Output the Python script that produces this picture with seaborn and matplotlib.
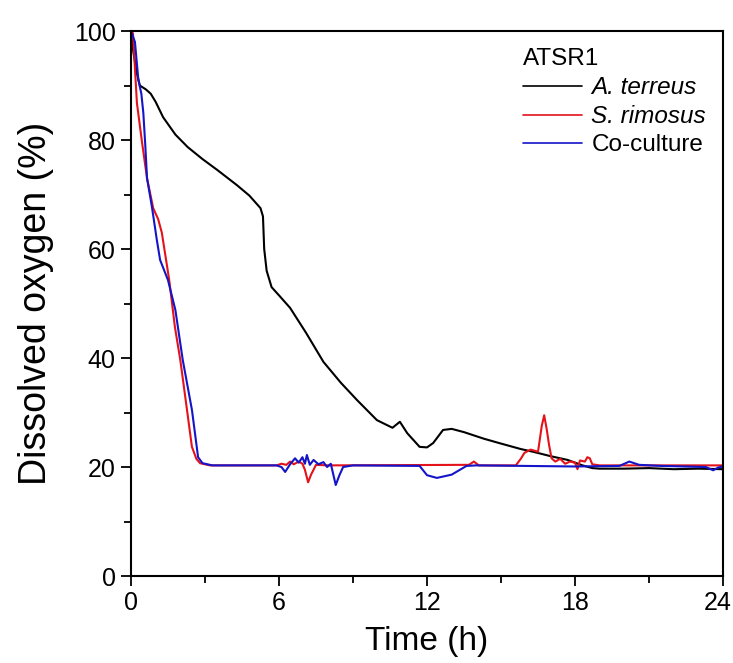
import numpy as np
import pandas as pd
import matplotlib
matplotlib.use("Agg")
import matplotlib.pyplot as plt
from matplotlib.ticker import MultipleLocator
from matplotlib.lines import Line2D
from matplotlib.transforms import ScaledTranslation
import seaborn as sns

# ---- data ----
t_terreus = [0, 0.1, 0.25, 0.36, 0.6, 0.8, 1.0, 1.3, 1.8, 2.3, 2.9, 3.5, 4.3, 4.8, 5.25,
             5.35, 5.4, 5.5, 5.7, 6.0, 6.45, 7.1, 7.8, 8.5, 9.16, 9.97, 10.6, 10.9, 11.2,
             11.7, 12.0, 12.25, 12.65, 13.0, 13.5, 14.3, 15.0, 15.8, 16.3, 17.0, 17.7,
             18.3, 18.7, 19.0, 20.0, 21.0, 22.0, 23.0, 24.0]
do_terreus = [100, 96, 92, 90, 89.3, 88.5, 87, 84.2, 81, 78.7, 76.5, 74.5, 71.7, 69.8, 67.5,
              66, 60, 56, 53, 51.5, 49.2, 44.6, 39.3, 35.5, 32.3, 28.6, 27.2, 28.3, 26.2,
              23.7, 23.6, 24.4, 26.8, 27.0, 26.4, 25.2, 24.3, 23.3, 22.8, 22.0, 21.3,
              20.3, 19.8, 19.7, 19.7, 19.8, 19.6, 19.7, 19.6]

t_rimosus = [0, 0.08, 0.24, 0.45, 0.65, 0.9, 1.1, 1.25, 1.55, 1.78, 2.0, 2.27, 2.47, 2.65, 2.8, 3.2,
             5.9, 6.1, 6.3, 6.45, 6.6, 6.8, 6.95, 7.05, 7.18, 7.3, 7.5, 8.0, 13.7, 13.9,
             14.1, 15.6, 15.8, 15.95, 16.2, 16.5, 16.65, 16.75, 16.85, 16.95, 17.05, 17.2,
             17.4, 17.6, 17.8, 18.0, 18.1, 18.2, 18.4, 18.5, 18.6, 18.7, 19.0, 24.0]
do_rimosus = [100, 99.6, 86.8, 79.5, 73, 67.5, 65.5, 63, 54.3, 45.7, 39.6, 30.5, 23.7, 21.5, 20.7, 20.3,
              20.3, 20.6, 20.4, 21.0, 20.5, 21.0, 20.6, 19.5, 17.2, 18.6, 20.4, 20.3, 20.4, 21.0,
              20.3, 20.3, 21.5, 22.6, 23.2, 22.8, 27.5, 29.5, 27.0, 24.0, 21.6, 21.0,
              21.5, 20.6, 21.0, 20.8, 19.6, 21.2, 21.0, 21.8, 21.6, 20.5, 20.3, 20.3]

t_coculture = [0, 0.16, 0.3, 0.42, 0.5, 0.58, 0.65, 0.85, 1.05, 1.18, 1.5, 1.8, 2.1, 2.47, 2.72, 2.9, 3.3,
               5.9, 6.1, 6.25, 6.45, 6.65, 6.8, 6.95, 7.05, 7.13, 7.25, 7.4, 7.6, 7.8, 7.95,
               8.1, 8.3, 8.45, 8.6, 9.0, 11.7, 12.0, 12.4, 13.0, 13.6, 14.0, 18.0, 19.8,
               20.2, 20.6, 21.5, 23.3, 23.6, 23.8, 24.0]
do_coculture = [100, 98, 91, 88.5, 85, 79, 73, 67.7, 61.6, 58, 54.3, 48.8, 39.6, 30.5, 21.8, 20.7, 20.3,
                20.3, 20.0, 19.1, 20.5, 21.6, 20.8, 21.8, 20.6, 22.2, 20.4, 21.3, 20.5, 20.9, 20.0,
                20.6, 16.7, 18.5, 20.0, 20.3, 20.2, 18.5, 18.0, 18.6, 20.2, 20.3, 20.1, 20.2,
                21.0, 20.4, 20.2, 20.0, 19.4, 19.9, 20.1]

series_names = ["A. terreus", "S. rimosus", "Co-culture"]
series_colors = ["#000000", "#e3121b", "#1414c8"]
legend_title = "ATSR1"
x_ticks = [0, 6, 12, 18, 24]
y_ticks = [0, 20, 40, 60, 80, 100]

df = pd.concat([
    pd.DataFrame({"Time": t_terreus, "DO": do_terreus, "Culture": series_names[0]}),
    pd.DataFrame({"Time": t_rimosus, "DO": do_rimosus, "Culture": series_names[1]}),
    pd.DataFrame({"Time": t_coculture, "DO": do_coculture, "Culture": series_names[2]}),
], ignore_index=True)

sns.set_style("ticks")
plt.rcParams["font.family"] = ["Liberation Sans", "DejaVu Sans"]
plt.rcParams["text.color"] = "black"
plt.rcParams["axes.labelcolor"] = "black"

fig = plt.figure(figsize=(7.33, 6.63), dpi=100)
ax = fig.add_axes([0.1787, 0.1312, 0.8077, 0.822])

sns.lineplot(data=df, x="Time", y="DO", hue="Culture", hue_order=series_names,
             palette=dict(zip(series_names, series_colors)), estimator=None, sort=False,
             linewidth=1.5, legend=False, ax=ax)

ax.set_xlim(0, 24)
ax.set_ylim(0, 100)
ax.set_xticks(x_ticks)
ax.set_yticks(y_ticks)
ax.xaxis.set_minor_locator(MultipleLocator(3))
ax.yaxis.set_minor_locator(MultipleLocator(10))
ax.tick_params(axis="both", which="major", direction="out", length=7, width=1.3,
               labelsize=18, colors="black", labelcolor="black", pad=4)
ax.tick_params(axis="both", which="minor", direction="out", length=5, width=1.3, colors="black")
ax.tick_params(top=False, right=False, which="both")
for s in ax.spines.values():
    s.set_visible(True)
    s.set_linewidth(1.5)
    s.set_color("black")

# keep the last x tick label inside the canvas
last_lbl = ax.get_xticklabels()[-1]
last_lbl.set_transform(last_lbl.get_transform() + ScaledTranslation(-5 / 100, 0, fig.dpi_scale_trans))

ax.set_xlabel("Time (h)", fontsize=24, labelpad=8, color="black")
ax.set_ylabel("Dissolved oxygen (%)", fontsize=27, labelpad=14, color="black")

handles = [Line2D([0], [0], color=c, lw=1.2) for c in series_colors]
leg = ax.legend(handles, series_names, title=legend_title, loc="upper right", frameon=False,
                fontsize=17.5, title_fontsize=17.5, handlelength=2.4, handletextpad=0.4,
                labelspacing=0.25, borderaxespad=0.3, bbox_to_anchor=(1.0, 1.0))
leg._legend_box.align = "left"
leg.get_title().set_color("black")
for i, txt in enumerate(leg.get_texts()):
    txt.set_color("black")
    if i < 2:
        txt.set_fontstyle("italic")

fig.savefig("out.png", dpi=100)
